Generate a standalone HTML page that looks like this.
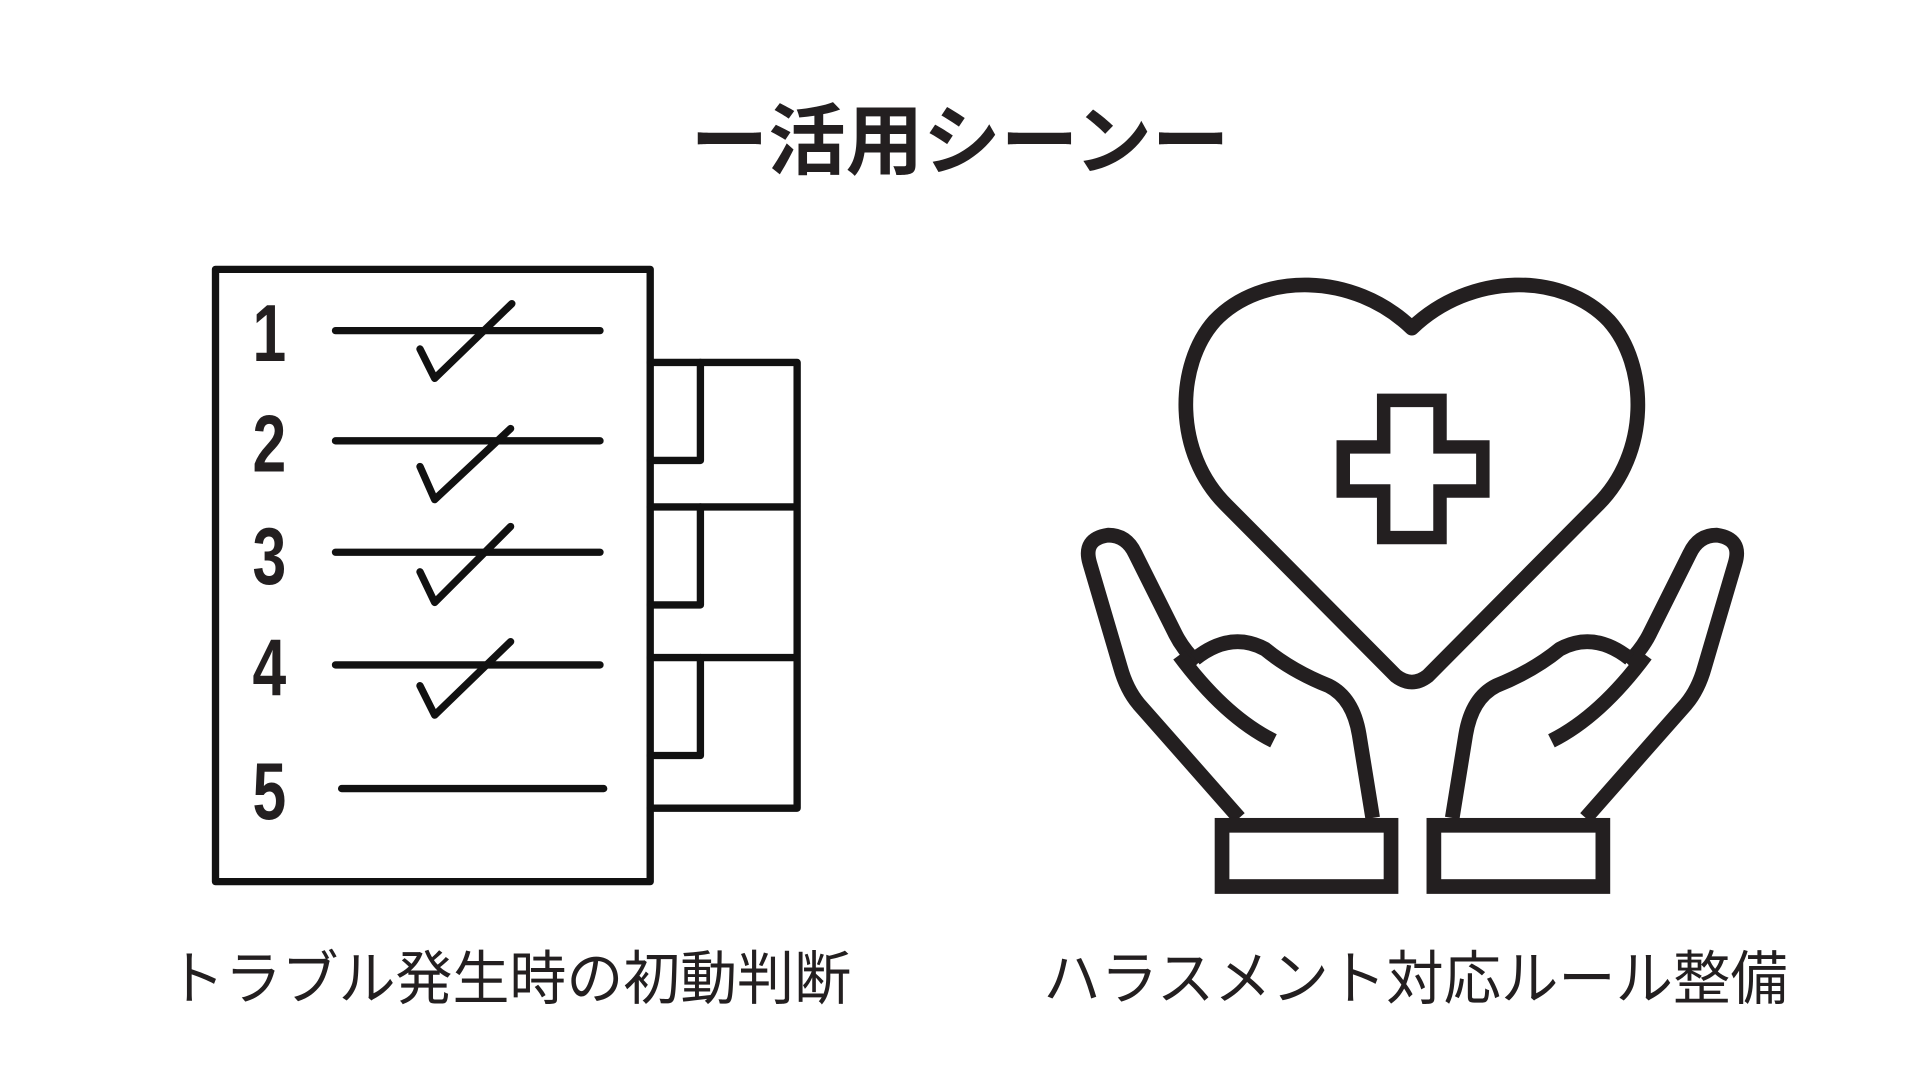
<!DOCTYPE html>
<html><head><meta charset="utf-8"><style>
html,body{margin:0;padding:0;background:#fff;width:1920px;height:1080px;overflow:hidden}
svg{display:block}
text{font-family:"Liberation Sans","Noto Sans CJK JP",sans-serif;fill:#231f20}
</style></head><body>
<svg width="1920" height="1080" viewBox="0 0 1568 882" preserveAspectRatio="none">
<text x="784" y="137" font-size="63" font-weight="bold" text-anchor="middle" textLength="440" lengthAdjust="spacingAndGlyphs">ー活用シーンー</text>
<g fill="none" stroke="#111" stroke-width="6" stroke-linecap="round" stroke-linejoin="round">
<rect x="176" y="220" width="355" height="500"/>
<path d="M531 296H651V660H531M531 414H651M531 537H651"/>
<path d="M531 376H572V296M531 494H572V414M531 617H572V537"/>
<path d="M274 270H490M274 360H490M274 451H490M274 543H490M279 644H493"/>
<path d="M343 285L355 309L418 248M343 381L355 408L417 350M343 467L355 492L417 430M343 560L355 584L417 524"/>
</g>
<g font-size="66" font-weight="bold" text-anchor="middle" fill="#111">
<text x="220" y="295" transform="translate(220,0) scale(0.75,1) translate(-220,0)">1</text>
<text x="220" y="385" transform="translate(220,0) scale(0.75,1) translate(-220,0)">2</text>
<text x="220" y="477" transform="translate(220,0) scale(0.75,1) translate(-220,0)">3</text>
<text x="220" y="568" transform="translate(220,0) scale(0.75,1) translate(-220,0)">4</text>
<text x="220" y="669" transform="translate(220,0) scale(0.75,1) translate(-220,0)">5</text>
</g>
<g fill="none" stroke="#231f20" stroke-width="12" stroke-linejoin="round">
<path d="M1153 268C1105 222 1030 222 992 262C960 298 958 370 1002 413L1140 552Q1153 562 1166 552L1304 413C1348 370 1346 298 1314 262C1276 222 1201 222 1153 268Z"/>
<path d="M1130 327H1176V365H1211V401H1176V439H1130V401H1097V365H1130Z" stroke-width="11" stroke-linejoin="miter"/>
<g id="h">
<path d="M1012 668L930 575Q920 563 915 545L890 460Q884 440 905 437Q920 437 927 452L960 518Q966 530 978 542"/>
<path d="M976 538Q1005 515 1033 530Q1055 548 1085 560Q1105 570 1110 600L1121 668"/>
<path d="M963 535Q1000 585 1040 605"/>
<rect x="998" y="674" width="138" height="50" stroke-linejoin="miter"/>
</g>
<use href="#h" transform="translate(2307,0) scale(-1,1)"/>
</g>
<text x="137" y="816" font-size="48" textLength="558" lengthAdjust="spacingAndGlyphs">トラブル発生時の初動判断</text>
<text x="852" y="816" font-size="48" textLength="608" lengthAdjust="spacingAndGlyphs">ハラスメント対応ルール整備</text>
</svg>
</body></html>
